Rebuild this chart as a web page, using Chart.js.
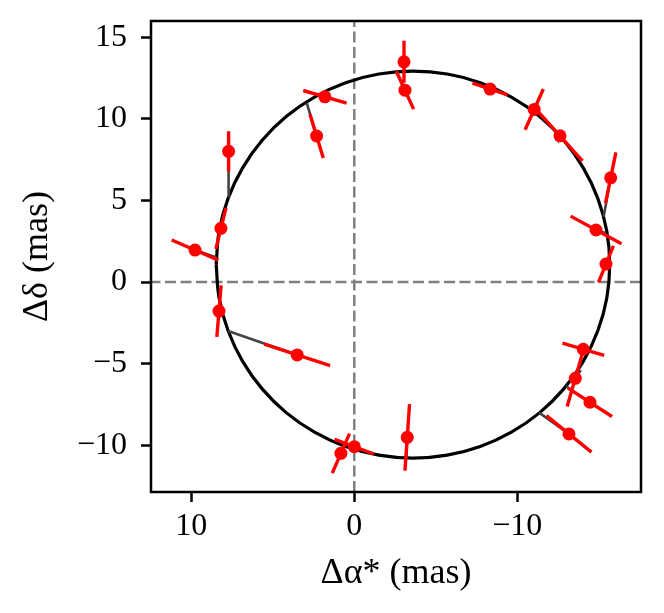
<!DOCTYPE html>
<html>
<head>
<meta charset="utf-8">
<script src="https://cdn.jsdelivr.net/npm/chart.js@4.4.1/dist/chart.umd.min.js"></script>
<style>
  html, body { margin: 0; padding: 0; background: #fff; }
  canvas { display: block; }
</style>
</head>
<body>
<canvas id="orbitChart" width="664" height="613"></canvas>
<script>
// observed relative positions (mas)
const obsX = [7.71, 1.80, 2.31, 8.18, 9.77, -3.05, -3.11, -8.33, -11.04, -12.62, -15.73,
              -14.83, -15.44, -14.05, -13.56, -14.46, -13.17, -3.25, 8.30, 3.50, 0.00, 0.82];
const obsY = [8.01, 11.35, 8.95, 3.29, 1.96, 13.50, 11.76, 11.83, 10.58, 8.96, 6.39,
              3.19, 1.10, -4.12, -5.90, -7.37, -9.31, -9.52, -1.78, -4.47, -10.09, -10.50];
// half extent of each error bar along its direction (mas)
const errDx = [0.00, 1.33, 0.41, -0.31, 1.43, 0.00, 0.53, 1.08, -0.56, 1.38, -0.32,
               1.56, -0.46, 1.28, -0.50, 1.35, 1.38, -0.14, -0.13, 2.02, 1.21, -0.53];
const errDy = [1.23, 0.39, 1.34, 1.26, 0.62, 1.29, 1.16, 0.36, 1.25, 1.53, 1.56,
               0.85, 1.12, 0.38, 1.73, 0.87, 1.12, 2.04, 1.58, 0.66, 0.45, 1.21];
// predicted positions on the orbit for each epoch
const modelX = [7.71, 1.90, 2.92, 8.25, 8.45, -3.05, -2.60, -8.30, -11.00, -12.60, -15.30,
                -15.40, -15.60, -14.30, -13.90, -12.99, -11.36, -3.20, 8.30, 7.74, 0.00, 0.90];
const modelY = [5.20, 11.60, 11.00, 3.30, 1.50, 12.92, 12.87, 11.95, 10.40, 8.90, 4.00,
                3.00, 1.20, -4.20, -5.40, -6.39, -8.02, -10.78, -1.60, -3.00, -10.25, -10.20];
// orbit curve
const orbitX = [8.47, 8.29, 7.74, 6.85, 5.65, 4.16, 2.44, 0.53, -1.51, -3.60,
                -5.70, -7.73, -9.64, -11.36, -12.85, -14.05, -14.94, -15.49, -15.67,
                -15.49, -14.94, -14.05, -12.85, -11.36, -9.64, -7.73, -5.70, -3.60,
                -1.51, 0.53, 2.44, 4.16, 5.65, 6.85, 7.74, 8.29, 8.47];
const orbitY = [1.07, 3.13, 5.13, 7.00, 8.69, 10.16, 11.34, 12.22, 12.75, 12.93,
                12.75, 12.22, 11.34, 10.16, 8.69, 7.00, 5.13, 3.13, 1.07,
                -0.99, -2.99, -4.86, -6.55, -8.02, -9.20, -10.08, -10.61, -10.79,
                -10.61, -10.08, -9.20, -8.02, -6.55, -4.86, -2.99, -0.99, 1.07];

const xTicks = [10, 0, -10];
const yTicks = [-10, -5, 0, 5, 10, 15];
const xLimits = [-17.59, 12.47];
const yLimits = [-12.87, 16.0];

const FONT = "'Liberation Serif', 'DejaVu Serif', serif";

function segments(pairs) {
    const out = [];
    pairs.forEach(p => {
        out.push(p[0], p[1], { x: null, y: null });
    });
    return out;
}

const points = obsX.map((x, i) => ({ x: x, y: obsY[i] }));
const errorBars = segments(obsX.map((x, i) => [
    { x: x + errDx[i], y: obsY[i] + errDy[i] },
    { x: x - errDx[i], y: obsY[i] - errDy[i] }
]));
const residuals = segments(obsX.map((x, i) => [
    { x: x, y: obsY[i] },
    { x: modelX[i], y: modelY[i] }
]));
const orbit = orbitX.map((x, i) => ({ x: x, y: orbitY[i] }));

const framePlugin = {
    id: 'frame',
    afterDraw(chart) {
        const a = chart.chartArea;
        const ctx = chart.ctx;
        ctx.save();
        ctx.strokeStyle = '#000';
        ctx.lineWidth = 2.5;
        ctx.strokeRect(a.left, a.top, a.right - a.left, a.bottom - a.top);
        ctx.restore();
    }
};

const minus = v => String(v).replace('-', '\u2212');

new Chart(document.getElementById('orbitChart').getContext('2d'), {
    type: 'scatter',
    data: {
        datasets: [{
            data: points,
            backgroundColor: '#ff0000',
            borderWidth: 0,
            pointRadius: 6.5,
            order: 0
        }, {
            data: errorBars,
            showLine: true,
            borderColor: '#ff0000',
            borderWidth: 3.4,
            pointRadius: 0,
            order: 1
        }, {
            data: residuals,
            showLine: true,
            borderColor: '#444444',
            borderWidth: 2.6,
            pointRadius: 0,
            order: 2
        }, {
            data: orbit,
            showLine: true,
            borderColor: '#000000',
            borderWidth: 3.2,
            pointRadius: 0,
            tension: 0.4,
            order: 3
        }, {
            data: [{ x: 0, y: yLimits[0] }, { x: 0, y: yLimits[1] }],
            showLine: true,
            borderColor: '#808080',
            borderWidth: 2.5,
            borderDash: [11, 4.5],
            pointRadius: 0,
            order: 4
        }, {
            data: [{ x: xLimits[0], y: 0 }, { x: xLimits[1], y: 0 }],
            showLine: true,
            borderColor: '#808080',
            borderWidth: 2.5,
            borderDash: [11, 4.5],
            pointRadius: 0,
            order: 5
        }]
    },
    options: {
        responsive: false,
        animation: false,
        events: [],
        layout: { padding: { left: 0, top: 21, right: 23, bottom: 0 } },
        plugins: {
            legend: { display: false },
            tooltip: { enabled: false }
        },
        scales: {
            x: {
                type: 'linear',
                reverse: true,
                min: xLimits[0],
                max: xLimits[1],
                afterBuildTicks: s => { s.ticks = xTicks.map(v => ({ value: v })); },
                afterFit: s => { s.height = 121; s.paddingLeft = 0; s.paddingRight = 0; },
                border: { display: false },
                grid: {
                    drawOnChartArea: false,
                    drawTicks: true,
                    tickLength: 10,
                    tickWidth: 2.5,
                    tickColor: '#000'
                },
                ticks: {
                    color: '#000',
                    font: { family: FONT, size: 32 },
                    padding: 5,
                    maxRotation: 0,
                    callback: v => minus(v)
                },
                title: {
                    display: true,
                    text: 'Δα* (mas)',
                    color: '#000',
                    font: { family: FONT, size: 36 },
                    padding: { top: 0, bottom: 18 }
                }
            },
            y: {
                type: 'linear',
                min: yLimits[0],
                max: yLimits[1],
                afterBuildTicks: s => { s.ticks = yTicks.map(v => ({ value: v })); },
                afterFit: s => { s.width = 151; s.paddingTop = 0; s.paddingBottom = 0; },
                border: { display: false },
                grid: {
                    drawOnChartArea: false,
                    drawTicks: true,
                    tickLength: 10,
                    tickWidth: 2.5,
                    tickColor: '#000'
                },
                ticks: {
                    color: '#000',
                    font: { family: FONT, size: 32 },
                    padding: 14,
                    callback: v => minus(v)
                },
                title: {
                    display: true,
                    text: 'Δδ (mas)',
                    color: '#000',
                    font: { family: FONT, size: 36 },
                    padding: { top: 16, bottom: 0 }
                }
            }
        }
    },
    plugins: [framePlugin]
});
</script>
</body>
</html>
